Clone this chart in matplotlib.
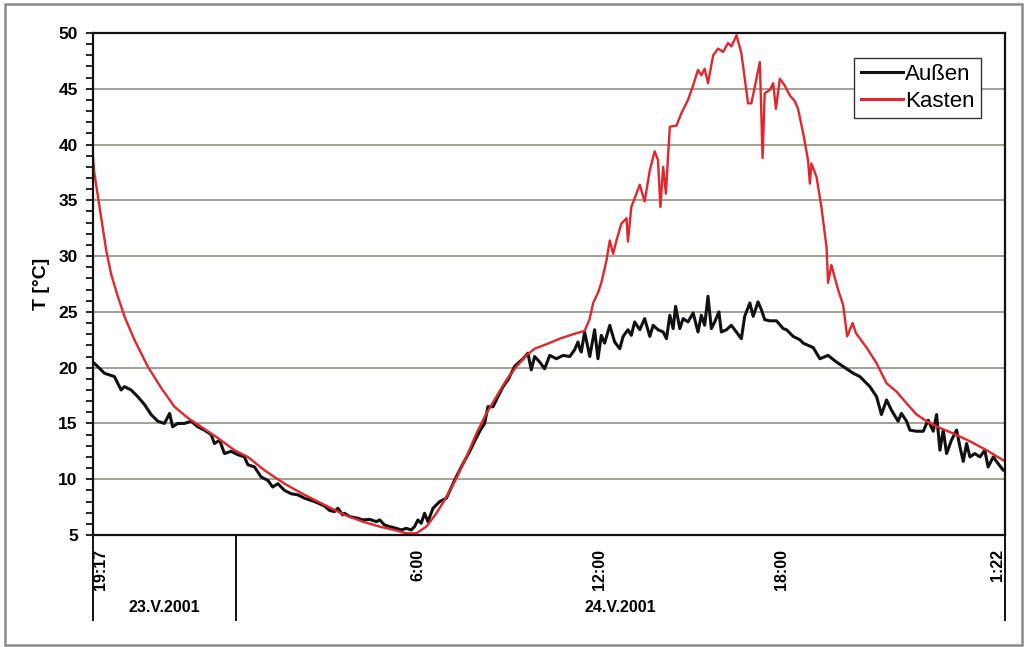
import matplotlib
matplotlib.use("Agg")
import matplotlib.pyplot as plt
import matplotlib.transforms as mtransforms
from matplotlib.patches import Rectangle
from matplotlib.ticker import MultipleLocator

plt.rcParams['font.family'] = ['Liberation Sans', 'DejaVu Sans']

# Zeit in Stunden ab 0:00 am 23.V.2001 (24 = Mitternacht, 49.37 = 1:22 am 25.V.)
t_aussen = [19.28, 19.44, 19.66, 19.99, 20.21, 20.32, 20.54, 20.76, 20.98, 21.20,
            21.42, 21.64, 21.81, 21.91, 22.08, 22.30, 22.52, 22.74, 22.96, 23.18,
            23.29, 23.46, 23.62, 23.84, 24.06, 24.28, 24.39, 24.61, 24.83, 25.05,
            25.21, 25.38, 25.60, 25.82, 26.04, 26.26, 26.59, 26.92, 27.09, 27.25,
            27.36, 27.52, 27.58, 27.75, 28.02, 28.18, 28.41, 28.63, 28.74, 28.90,
            29.07, 29.29, 29.45, 29.62, 29.78, 29.89, 30.00, 30.11, 30.22, 30.33,
            30.50, 30.72, 30.94, 31.21, 31.32, 31.49, 31.71, 31.87, 32.04, 32.20,
            32.31, 32.48, 32.64, 32.81, 32.97, 33.19, 33.30, 33.47, 33.63, 33.74,
            33.85, 34.02, 34.18, 34.35, 34.57, 34.79, 35.01, 35.17, 35.28, 35.34,
            35.39, 35.50, 35.67, 35.83, 35.94, 36.05, 36.16, 36.33, 36.49, 36.66,
            36.77, 36.93, 37.04, 37.15, 37.32, 37.48, 37.65, 37.76, 37.92, 38.09,
            38.20, 38.31, 38.42, 38.50, 38.64, 38.75, 38.91, 39.08, 39.24, 39.35,
            39.46, 39.57, 39.68, 39.79, 39.93, 40.01, 40.18, 40.34, 40.45, 40.67,
            40.78, 40.95, 41.06, 41.22, 41.33, 41.44, 41.61, 41.83, 42.05, 42.16,
            42.38, 42.60, 42.71, 43.04, 43.26, 43.53, 43.81, 44.14, 44.36, 44.58,
            44.91, 45.13, 45.29, 45.46, 45.62, 45.84, 45.95, 46.12, 46.23, 46.45,
            46.67, 46.83, 47.00, 47.11, 47.22, 47.33, 47.44, 47.60, 47.77, 47.88,
            47.99, 48.10, 48.21, 48.37, 48.54, 48.70, 48.81, 48.98, 49.14, 49.31,
            49.37]
aussen = [20.5, 20.1, 19.5, 19.2, 18.0, 18.3, 18.0, 17.4, 16.7, 15.8,
          15.2, 15.0, 15.9, 14.7, 15.0, 15.0, 15.2, 14.7, 14.4, 14.0,
          13.2, 13.5, 12.3, 12.5, 12.2, 12.0, 11.3, 11.1, 10.2, 9.9,
          9.3, 9.6, 9.0, 8.7, 8.6, 8.3, 8.0, 7.6, 7.2, 7.1,
          7.4, 6.8, 6.95, 6.65, 6.5, 6.35, 6.4, 6.2, 6.35, 5.9,
          5.75, 5.6, 5.45, 5.6, 5.45, 5.75, 6.35, 6.05, 6.95, 6.2,
          7.4, 8.0, 8.3, 9.9, 10.5, 11.4, 12.5, 13.4, 14.3, 15.0,
          16.5, 16.5, 17.4, 18.3, 18.9, 20.1, 20.4, 20.8, 21.3, 19.8,
          21.0, 20.5, 19.9, 21.1, 20.8, 21.1, 21.0, 21.6, 22.3, 21.7,
          21.4, 23.2, 21.0, 23.4, 20.8, 22.9, 22.2, 23.8, 22.3, 21.7,
          22.8, 23.4, 22.9, 24.1, 23.4, 24.4, 22.8, 23.8, 23.4, 23.2,
          22.6, 24.7, 23.5, 25.5, 23.5, 24.4, 24.1, 24.9, 23.2, 24.7,
          23.8, 26.4, 23.5, 24.1, 25.0, 23.2, 23.4, 23.8, 23.4, 22.6,
          24.6, 25.8, 24.6, 25.9, 25.2, 24.3, 24.2, 24.2, 23.5, 23.4,
          22.8, 22.5, 22.2, 21.8, 20.8, 21.1, 20.5, 19.9, 19.5, 19.2,
          18.3, 17.4, 15.8, 17.1, 16.2, 15.2, 15.9, 15.2, 14.4, 14.3,
          14.3, 15.3, 14.3, 15.8, 12.6, 14.4, 12.3, 13.5, 14.4, 12.9,
          11.6, 13.2, 12.0, 12.3, 12.0, 12.6, 11.1, 12.0, 11.4, 10.8,
          10.9]

t_kasten = [19.28, 19.33, 19.50, 19.72, 19.88, 20.10, 20.32, 20.65, 21.09, 21.53,
            21.97, 22.41, 22.85, 23.40, 23.95, 24.39, 24.94, 25.60, 26.26, 26.92,
            27.58, 28.18, 28.74, 29.29, 29.62, 29.95, 30.28, 30.61, 30.94, 31.27,
            31.60, 31.93, 32.26, 32.59, 32.92, 33.25, 33.58, 33.85, 34.24, 34.68,
            35.12, 35.50, 35.67, 35.78, 35.94, 36.05, 36.22, 36.33, 36.44, 36.55,
            36.71, 36.88, 36.93, 37.04, 37.32, 37.48, 37.65, 37.81, 37.92, 38.00,
            38.09, 38.18, 38.31, 38.53, 38.69, 38.91, 39.08, 39.24, 39.35, 39.46,
            39.57, 39.74, 39.90, 40.07, 40.23, 40.34, 40.51, 40.67, 40.89, 41.00,
            41.28, 41.37, 41.44, 41.61, 41.72, 41.81, 41.94, 42.10, 42.27, 42.43,
            42.54, 42.71, 42.87, 42.93, 42.98, 43.15, 43.31, 43.48, 43.53, 43.64,
            43.86, 44.03, 44.16, 44.34, 44.45, 44.80, 45.13, 45.46, 45.79, 46.12,
            46.45, 46.78, 47.22, 47.66, 48.21, 48.76, 49.31, 49.37]
kasten = [39.0, 37.4, 34.4, 30.5, 28.4, 26.4, 24.6, 22.5, 20.1, 18.2,
          16.5, 15.5, 14.7, 13.7, 12.6, 12.0, 10.8, 9.6, 8.6, 7.7,
          6.8, 6.2, 5.75, 5.4, 5.15, 5.15, 5.75, 6.95, 8.4, 10.1,
          12.0, 14.1, 15.9, 17.4, 18.9, 20.1, 21.1, 21.7, 22.1, 22.6,
          23.0, 23.3, 24.4, 25.8, 26.7, 27.6, 29.6, 31.4, 30.2, 31.4,
          32.9, 33.4, 31.3, 34.4, 36.4, 34.9, 37.7, 39.4, 38.6, 34.4,
          38.0, 35.6, 41.6, 41.7, 42.8, 44.0, 45.3, 46.7, 46.2, 46.8,
          45.5, 48.0, 48.6, 48.3, 49.1, 48.8, 49.8, 48.2, 43.7, 43.7,
          47.4, 38.8, 44.6, 44.9, 45.5, 43.2, 45.9, 45.3, 44.4, 43.9,
          43.2, 41.0, 38.6, 36.5, 38.3, 37.1, 34.4, 30.8, 27.6, 29.2,
          27.0, 25.6, 22.8, 24.0, 23.1, 21.8, 20.4, 18.6, 17.85, 16.8,
          15.8, 15.2, 14.6, 14.1, 13.4, 12.6, 11.7, 11.6]

tick_pos = [19 + 17 / 60, 30, 36, 42, 48 + 1 + 22 / 60]
tick_labels = ['19:17', '6:00', '12:00', '18:00', '1:22']
day_bounds = [19 + 17 / 60, 24, 48 + 1 + 22 / 60]
day_labels = ['23.V.2001', '24.V.2001']

fig = plt.figure(figsize=(10.25, 6.47), dpi=100)
ax = fig.add_axes([93 / 1025, 1 - 535 / 647, 912 / 1025, 502 / 647])

ax.plot(t_aussen, aussen, color='#111111', lw=2.2, label='Außen')
ax.plot(t_kasten, kasten, color='#e3262b', lw=1.7, label='Kasten')

ax.set_xlim(day_bounds[0], day_bounds[-1])
ax.set_ylim(5, 50)
ax.yaxis.set_major_locator(MultipleLocator(5))
ax.yaxis.set_minor_locator(MultipleLocator(1))
ax.grid(axis='y', which='major', color='#8c8674', lw=1.1)
ax.tick_params(axis='y', which='both', direction='out', length=5, width=1.2,
               labelsize=12.5, pad=6)
ax.tick_params(axis='x', length=0, pad=10)
for s in ax.spines.values():
    s.set_linewidth(1.6)
    s.set_color('#111111')

ax.set_xticks(tick_pos)
ax.set_xticklabels(tick_labels, rotation=90, fontsize=11.5, fontweight='bold', va='top')
xl = ax.get_xticklabels()
xl[0].set_ha('left')
xl[-1].set_ha('right')
for lab in xl[1:-1]:
    lab.set_ha('center')
for lab in ax.get_yticklabels():
    lab.set_fontweight('bold')

ax.set_ylabel('T [°C]', fontsize=14, fontweight='bold', labelpad=6)

# Datumsbereich unter der Achse
trans = mtransforms.blended_transform_factory(ax.transData, ax.transAxes)
for xb in day_bounds:
    ax.plot([xb, xb], [0, -0.17], transform=trans, color='#111111', lw=1.4,
            clip_on=False)
for i, lab in enumerate(day_labels):
    xc = (day_bounds[i] + day_bounds[i + 1]) / 2
    ax.text(xc, -0.145, lab, transform=trans, ha='center', va='center',
            fontsize=11.5, fontweight='bold')

leg = ax.legend(loc='upper right', bbox_to_anchor=(0.974, 0.951), fontsize=16,
                handlelength=1.9, handletextpad=0.1, borderpad=0.3,
                labelspacing=0.25, fancybox=False, framealpha=1, borderaxespad=0)
leg.get_frame().set_edgecolor('#333333')
leg.get_frame().set_linewidth(1.0)
for ln in leg.get_lines():
    ln.set_linewidth(2.2)

fig.patches.append(Rectangle((5 / 1025, 2 / 647), 1017 / 1025, 641 / 647,
                             transform=fig.transFigure, fill=False,
                             edgecolor='#8a8a8a', lw=1.8))

fig.savefig('out.png', dpi=100)
